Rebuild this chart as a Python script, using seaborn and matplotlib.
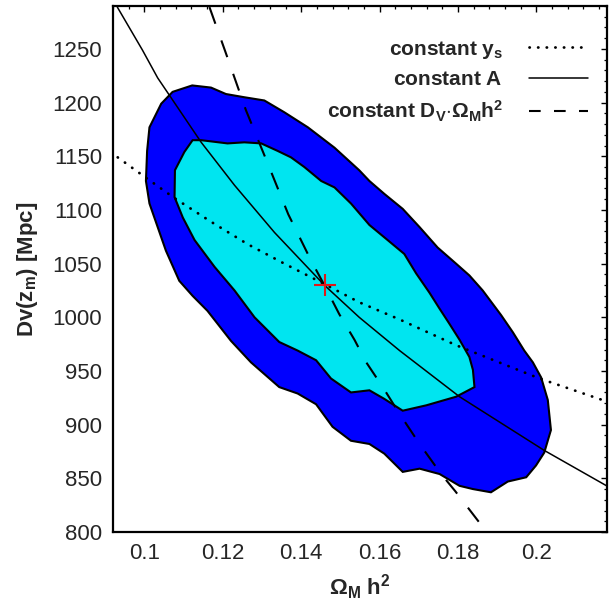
import matplotlib
matplotlib.use("Agg")
import matplotlib.pyplot as plt
from matplotlib.lines import Line2D
from matplotlib.ticker import MultipleLocator
import seaborn as sns

# ---------------- data ----------------
outer_x = [0.1122, 0.1170, 0.1208, 0.1255, 0.1306, 0.1357, 0.1417, 0.1485, 0.1548, 0.1574,
           0.1612, 0.1659, 0.1702, 0.1748, 0.1795, 0.1829, 0.1863, 0.1910, 0.1940, 0.1969,
           0.1991, 0.2012, 0.2029, 0.2037, 0.2020, 0.1999, 0.1974, 0.1927, 0.1884, 0.1838,
           0.1804, 0.1753, 0.1702, 0.1659, 0.1612, 0.1574, 0.1527, 0.1480, 0.1438, 0.1391,
           0.1344, 0.1272, 0.1221, 0.1161, 0.1123, 0.1089, 0.1055, 0.1034, 0.1013, 0.1004,
           0.1007, 0.1013, 0.1043, 0.1072]
outer_y = [1216, 1214, 1208, 1205, 1202, 1191, 1177, 1158, 1137, 1127,
           1115, 1101, 1084, 1065, 1050, 1039, 1025, 1002, 986, 969,
           958, 944, 923, 895, 874, 862, 851, 847, 837, 840,
           843, 854, 859, 856, 873, 882, 885, 898, 919, 929,
           935, 958, 978, 1006, 1020, 1034, 1062, 1084, 1106, 1127,
           1155, 1177, 1199, 1210]

inner_x = [0.1123, 0.1145, 0.1212, 0.1255, 0.1298, 0.1340, 0.1374, 0.1408, 0.1451, 0.1485,
           0.1527, 0.1574, 0.1617, 0.1663, 0.1693, 0.1727, 0.1753, 0.1778, 0.1804, 0.1829,
           0.1838, 0.1842, 0.1795, 0.1719, 0.1659, 0.1612, 0.1574, 0.1527, 0.1476, 0.1438,
           0.1391, 0.1344, 0.1281, 0.1230, 0.1179, 0.1128, 0.1098, 0.1077, 0.1078, 0.1102]
inner_y = [1165, 1165, 1162, 1163, 1162, 1155, 1149, 1140, 1127, 1121,
           1106, 1086, 1073, 1059, 1041, 1023, 1008, 994, 979, 963,
           951, 935, 926, 918, 913, 924, 932, 930, 943, 960,
           969, 977, 1000, 1025, 1047, 1072, 1093, 1112, 1137, 1154]

ys_x = [0.0932, 0.1004, 0.1077, 0.1170, 0.1264, 0.1357, 0.1459, 0.1548, 0.1651, 0.1795, 0.2008, 0.2184]
ys_y = [1149, 1130, 1111, 1089, 1068, 1050, 1031, 1014, 998, 974, 943, 921]

A_x = [0.0931, 0.0995, 0.1034, 0.1145, 0.1230, 0.1332, 0.1459, 0.1548, 0.1651, 0.1804, 0.2020, 0.2184]
A_y = [1289, 1249, 1223, 1163, 1123, 1079, 1030, 1000, 969, 926, 876, 842]

DV_x = [0.1166, 0.1207, 0.1259, 0.1315, 0.1367, 0.1425, 0.1459, 0.1497, 0.1536, 0.1566,
        0.1608, 0.1651, 0.1702, 0.1757, 0.1793, 0.1873]
DV_y = [1289, 1247, 1193, 1143, 1096, 1053, 1030, 1003, 979, 958,
        935, 910, 882, 854, 838, 800]

best_x = [0.146]
best_y = [1030]

legend_labels = [r'$\mathbf{constant\ y_s}$',
                 r'$\mathbf{constant\ A}$',
                 r'$\mathbf{constant\ D_V{\cdot}\Omega_M h^2}$']
x_ticks = [0.1, 0.12, 0.14, 0.16, 0.18, 0.2]
x_tick_labels = ['0.1', '0.12', '0.14', '0.16', '0.18', '0.2']
y_ticks = [800, 850, 900, 950, 1000, 1050, 1100, 1150, 1200, 1250]

# ---------------- style ----------------
sns.set_style("white")
plt.rcParams['font.family'] = ['Liberation Sans', 'DejaVu Sans']
plt.rcParams['mathtext.fontset'] = 'custom'
plt.rcParams['mathtext.rm'] = 'Liberation Sans'
plt.rcParams['mathtext.bf'] = 'Liberation Sans:bold'
plt.rcParams['mathtext.it'] = 'Liberation Sans:italic'

fig = plt.figure(figsize=(6.09, 6.05), dpi=100)
ax = fig.add_axes([113 / 609, 1 - 532 / 605, 494 / 609, 526 / 605])

# contours
ax.fill(outer_x, outer_y, facecolor='#0000ff', edgecolor='black', linewidth=1.5, zorder=1)
ax.fill(inner_x, inner_y, facecolor='#00e5f0', edgecolor='black', linewidth=1.5, zorder=2)

# curves
sns.lineplot(x=ys_x, y=ys_y, sort=False, estimator=None, ax=ax, color='black',
             linewidth=2.0, linestyle=(0, (0.1, 3.1)), dash_capstyle='round', zorder=3)
sns.lineplot(x=A_x, y=A_y, sort=False, estimator=None, ax=ax, color='black',
             linewidth=1.1, zorder=3)
sns.lineplot(x=DV_x, y=DV_y, sort=False, estimator=None, ax=ax, color='black',
             linewidth=1.5, linestyle=(0, (8.5, 8.5)), zorder=3)

# best-fit cross
ax.plot(best_x, best_y, marker='+', markersize=16, markeredgewidth=1.5,
        color='#e01818', linestyle='none', zorder=4)

ax.set_xlim(0.092, 0.218)
ax.set_ylim(800, 1290)
ax.set_xticks(x_ticks)
ax.set_xticklabels(x_tick_labels)
ax.set_yticks(y_ticks)
ax.xaxis.set_minor_locator(MultipleLocator(0.004))
ax.yaxis.set_minor_locator(MultipleLocator(10))
ax.tick_params(which='both', direction='in', top=True, right=True, color='black')
ax.tick_params(which='major', length=4.5, width=1.0, labelsize=16)
ax.tick_params(which='minor', length=2.3, width=0.9)
ax.tick_params(axis='y', pad=8)
ax.tick_params(axis='x', pad=8)
for s in ax.spines.values():
    s.set_linewidth(1.6)
    s.set_color('black')

ax.set_xlabel(r'$\mathbf{\Omega_M\ h^2}$', fontsize=16, labelpad=6)
ax.set_ylabel(r'$\mathbf{Dv(z_m)\ [Mpc]}$', fontsize=16, labelpad=9)

handles = [
    Line2D([], [], color='black', linewidth=2.0, linestyle=(0, (0.1, 3.0)), dash_capstyle='round'),
    Line2D([], [], color='black', linewidth=1.1),
    Line2D([], [], color='black', linewidth=1.5, linestyle=(0, (5.6, 6.4))),
]
leg = ax.legend(handles, legend_labels, loc='upper right', bbox_to_anchor=(0.9615, 0.938),
                markerfirst=False, frameon=False, handlelength=2.84, handletextpad=1.25,
                borderpad=0, borderaxespad=0, labelspacing=0.45, fontsize=15)

fig.savefig('out.png', dpi=100)
